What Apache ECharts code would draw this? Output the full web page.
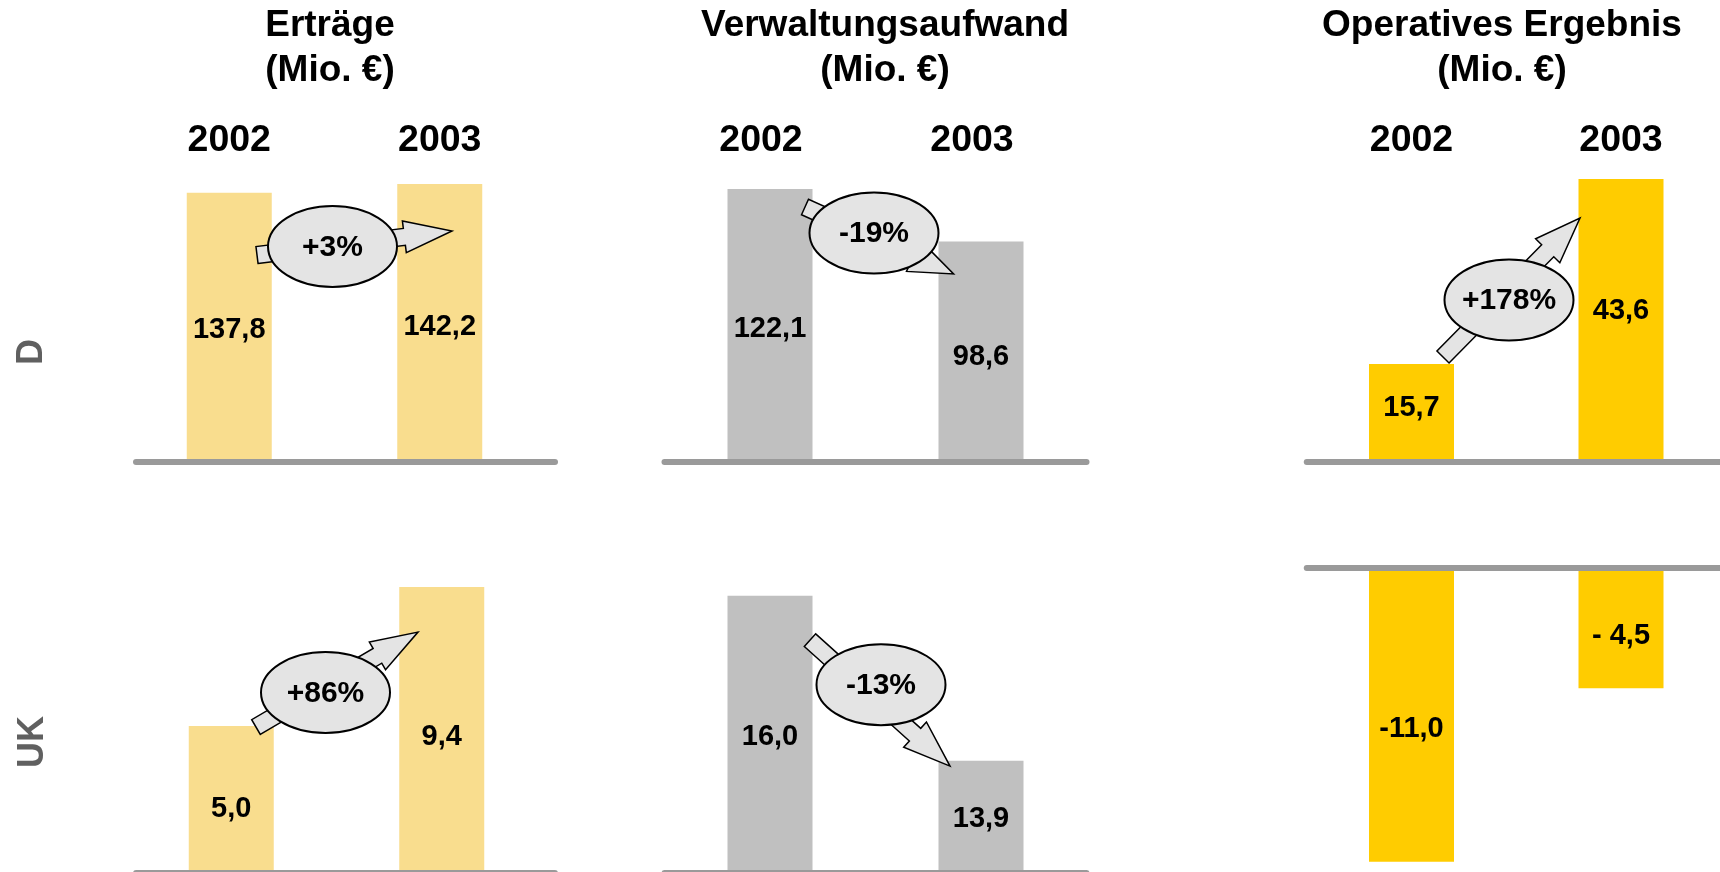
<!DOCTYPE html>
<html>
<head>
<meta charset="utf-8">
<script src="https://cdn.jsdelivr.net/npm/echarts@6/dist/echarts.min.js"></script>
<style>
html,body{margin:0;padding:0;background:#fff;}
#chart{width:1720px;height:872px;}
</style>
</head>
<body>
<div id="chart"></div>
<script>
// ---------- data ----------
const categories = ['2002', '2003'];
const panelTitles = ['Erträge\n(Mio. €)', 'Verwaltungsaufwand\n(Mio. €)', 'Operatives Ergebnis\n(Mio. €)'];
const rowLabels = ['D', 'UK'];
const ertraegeD = [137.8, 142.2];
const verwaltungD = [122.1, 98.6];
const operativD = [15.7, 43.6];
const ertraegeUK = [5.0, 9.4];
const verwaltungUK = [16.0, 13.9];
const operativUK = [-11.0, -4.5];
const changeD = ['+3%', '-19%', '+178%'];
const changeUK = ['+86%', '-13%', null];

// ---------- layout / style ----------
const FONT = '"Liberation Sans", Arial, sans-serif';
const colors = ['#f9dd8e', '#c0c0c0', '#ffcc00'];
const panels = [
  {values: ertraegeD, change: changeD[0], color: colors[0], grid: {left: 124, top: 170, width: 421, height: 292}, line: {left: 136, width: 419},
   y: [0, 149.4], years: true, yearPad: 0, labelOffset: [3, 4],
   geo: {tail: [27.75, 62.3], tip: [12.25, 46.9], ell: [103.25, 53.8], hl: 48, hw: 16}},
  {values: verwaltungD, change: changeD[1], color: colors[1], grid: {left: 664.5, top: 170, width: 422, height: 292},
   y: [0, 130.6], years: true, yearPad: 18, labelOffset: [3, 5.5],
   geo: {tail: [35, 18], tip: [-27.4, 32.4], ell: [104, 44], hl: 44, hw: 17}},
  {values: operativD, change: changeD[2], color: colors[2], grid: {left: 1306.75, top: 170, width: 419, height: 292},
   y: [0.92, 44.96], years: true, yearPad: 0, labelOffset: [-5, -9.5],
   geo: {tail: [31.5, -7], tip: [-41, 39], ell: [97.5, -64], hl: 46, hw: 17}},
  {values: ertraegeUK, change: changeUK[0], color: colors[0], grid: {left: 126, top: 540, width: 421, height: 333}, line: {left: 136, width: 419},
   y: [0.347, 10.89], years: false, labelOffset: [9, 7],
   geo: {tail: [24.75, 1], tip: [-23.75, 45], ell: [94.25, -33.5], hl: 47, hw: 16}},
  {values: verwaltungUK, change: changeUK[1], color: colors[1], grid: {left: 664.5, top: 540, width: 422, height: 333},
   y: [12.47, 16.71], years: false, labelOffset: [3, 2],
   geo: {tail: [40, 44.4], tip: [-31, 5.4], ell: [111, 88.9], hl: 47, hw: 17}},
  {values: operativUK, change: changeUK[2], color: colors[2], grid: {left: 1306.75, top: 540, width: 419, height: 333},
   y: [-11.42, 1.05], years: false, labelOffset: [14, 8],
   geo: null}
];
const titlePos = [330, 885, 1502];
const rowLabelPos = [[32, 352], [33, 742]];

function fmt(v) {
  const s = Math.abs(v).toFixed(1).replace('.', ',');
  if (v < 0) return (Math.abs(v) < 10 ? '- ' : '-') + s;
  return s;
}

const baseLine = {show: true, onZero: true, lineStyle: {color: '#9a9a9a', width: 6}};
const grid = [], xAxis = [], yAxis = [], series = [];
panels.forEach((p, i) => {
  const gi = grid.length;
  grid.push(Object.assign({outerBoundsMode: 'none', containLabel: false}, p.grid));
  const mainX = xAxis.length;
  xAxis.push({
    type: 'category', gridIndex: gi, data: categories, z: 10,
    axisLine: p.line ? {show: false} : baseLine,
    axisTick: {show: false}, axisLabel: {show: false}, splitLine: {show: false}
  });
  if (p.years) {
    xAxis.push({
      type: 'category', gridIndex: gi, data: categories, position: 'top',
      axisLine: {show: false}, axisTick: {show: false}, splitLine: {show: false},
      axisLabel: {show: true, margin: 10, color: '#000', fontSize: 37.5, fontWeight: 'bold', fontFamily: FONT,
                  padding: [0, p.yearPad, 0, 0]}
    });
  }
  const mainY = yAxis.length;
  yAxis.push({type: 'value', gridIndex: gi, min: p.y[0], max: p.y[1], show: false, splitLine: {show: false}});

  // separate baseline extent where the axis line is not centred on the bars
  if (p.line) {
    const lg = grid.length;
    grid.push({outerBoundsMode: 'none', containLabel: false, left: p.line.left, width: p.line.width, top: p.grid.top, height: p.grid.height});
    xAxis.push({type: 'category', gridIndex: lg, data: categories, z: 10, axisLine: baseLine,
                axisTick: {show: false}, axisLabel: {show: false}, splitLine: {show: false}});
    yAxis.push({type: 'value', gridIndex: lg, min: p.y[0], max: p.y[1], show: false, splitLine: {show: false}});
  }

  series.push({
    type: 'bar', xAxisIndex: mainX, yAxisIndex: mainY, barWidth: 85, clip: true,
    data: p.values.map((v, k) => ({value: v, label: {offset: [0, p.labelOffset[k]]}})),
    itemStyle: {color: p.color},
    label: {show: true, position: 'inside', color: '#000', fontSize: 29, fontWeight: 'bold', fontFamily: FONT,
            formatter: (d) => fmt(d.value)}
  });
  if (p.geo && p.change) {
    const g = p.geo, text = p.change;
    series.push({
      type: 'custom', xAxisIndex: mainX, yAxisIndex: mainY, z: 20, silent: true,
      data: [[0, p.values[0], 1, p.values[1]]],
      encode: {x: [0, 2], y: [1, 3]},
      renderItem: function (params, api) {
        const a = api.coord([api.value(0), api.value(1)]);
        const b = api.coord([api.value(2), api.value(3)]);
        const T = [a[0] + g.tail[0], a[1] + g.tail[1]];
        const P = [b[0] + g.tip[0], b[1] + g.tip[1]];
        const C = [a[0] + g.ell[0], a[1] + g.ell[1]];
        const dx = P[0] - T[0], dy = P[1] - T[1];
        const len = Math.sqrt(dx * dx + dy * dy);
        const u = [dx / len, dy / len], n = [-u[1], u[0]];
        const sw = 8.5, hw = g.hw, hl = g.hl;
        const H = [P[0] - u[0] * hl, P[1] - u[1] * hl];
        const pts = [
          [T[0] + n[0] * sw, T[1] + n[1] * sw],
          [H[0] + n[0] * sw, H[1] + n[1] * sw],
          [H[0] + n[0] * hw, H[1] + n[1] * hw],
          P,
          [H[0] - n[0] * hw, H[1] - n[1] * hw],
          [H[0] - n[0] * sw, H[1] - n[1] * sw],
          [T[0] - n[0] * sw, T[1] - n[1] * sw]
        ];
        return {
          type: 'group',
          children: [
            {type: 'polygon', shape: {points: pts}, style: {fill: '#e4e4e4', stroke: '#000', lineWidth: 1.5}},
            {type: 'ellipse', shape: {cx: C[0], cy: C[1], rx: 64.5, ry: 40.5}, style: {fill: '#e4e4e4', stroke: '#000', lineWidth: 2}},
            {type: 'text', x: C[0], y: C[1] + 1,
             style: {text: text, fill: '#000', fontSize: 30, fontWeight: 'bold', fontFamily: FONT, align: 'center', verticalAlign: 'middle'}}
          ]
        };
      }
    });
  }
});

const title = panelTitles.map((t, i) => ({
  text: t, left: titlePos[i], top: 3, textAlign: 'center', padding: 0,
  textStyle: {fontSize: 37, fontWeight: 'bold', color: '#000', lineHeight: 45, fontFamily: FONT}
}));

const graphic = rowLabels.map((t, i) => ({
  type: 'text', x: rowLabelPos[i][0], y: rowLabelPos[i][1], rotation: Math.PI / 2,
  style: {text: t, fill: '#606060', fontSize: 36, fontWeight: 'bold', fontFamily: FONT, align: 'center', verticalAlign: 'middle'}
}));

const chart = echarts.init(document.getElementById('chart'), null, {renderer: 'canvas'});
chart.setOption({
  backgroundColor: '#fff',
  animation: false,
  title: title,
  grid: grid,
  xAxis: xAxis,
  yAxis: yAxis,
  series: series,
  graphic: graphic
});
</script>
</body>
</html>
